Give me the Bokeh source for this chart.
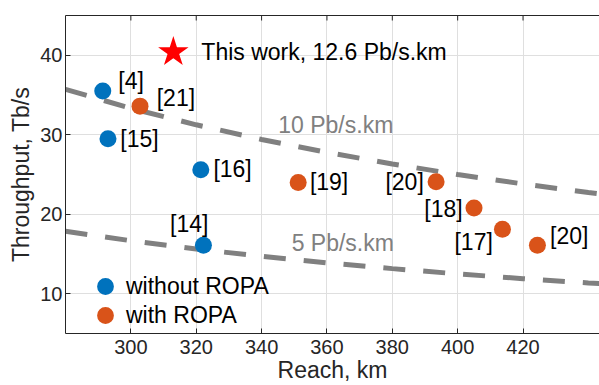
import math
from bokeh.plotting import figure
from bokeh.models import Range1d, LinearAxis, FixedTicker, ColumnDataSource, Legend, LegendItem
from bokeh.core.properties import value
from bokeh.embed import file_html
from bokeh.resources import INLINE

# ---- data ----
wo_reach = [291.4, 293.0, 321.4, 322.2]
wo_thr = [35.5, 29.5, 25.6, 16.1]
wo_labels = ["[4]", "[15]", "[16]", "[14]"]

w_reach = [302.8, 351.2, 393.4, 405.0, 413.7, 424.4]
w_thr = [33.6, 24.0, 24.1, 20.8, 18.1, 16.1]
w_labels = ["[21]", "[19]", "[20]", "[18]", "[17]", "[20]"]

this_reach = [313.0]
this_thr = [40.4]
this_label = ["This work, 12.6 Pb/s.km"]

iso_reach = [280, 300, 320, 340, 360, 380, 400, 420, 440, 460]
iso10_thr = [35.71, 33.33, 31.25, 29.41, 27.78, 26.32, 25.00, 23.81, 22.73, 21.74]
iso5_thr = [17.86, 16.67, 15.63, 14.71, 13.89, 13.16, 12.50, 11.90, 11.36, 10.87]
iso_text = ["10 Pb/s.km", "5 Pb/s.km"]
iso_text_reach = [345.1, 349.2]
iso_text_thr = [31.2, 16.4]

x_ticks = [300, 320, 340, 360, 380, 400, 420]
y_ticks = [10, 20, 30, 40]
x_lim = (280, 443.4)
y_lim = (5, 45)

# ---- label placement (screen offsets, px) ----
wo_dx = [15.6, 12.3, 12.6, 5.0]
wo_dy = [-10.0, 0.0, -0.7, -21.7]
wo_align = ["left", "left", "left", "right"]
w_dx = [16.7, 11.7, -12.3, -11.3, -9.6, 12.7]
w_dy = [-8.0, -0.6, 0.6, 0.7, 12.6, -9.4]
w_align = ["left", "left", "right", "right", "right", "left"]

FONT = "Liberation Sans"
BLUE = "#0072BD"
ORANGE = "#D95319"
AX = "#262626"

p = figure(width=599, height=385, output_backend="svg", toolbar_location=None,
           x_range=Range1d(*x_lim), y_range=Range1d(*y_lim),
           min_border_left=65, min_border_right=0, min_border_top=15, min_border_bottom=51,
           x_axis_label="Reach, km", y_axis_label="Throughput, Tb/s")
p.outline_line_color = None
p.background_fill_color = "white"
p.border_fill_color = "white"

for ax in (p.xaxis[0], p.yaxis[0]):
    ax.axis_line_color = AX
    ax.major_tick_line_color = AX
    ax.major_tick_in = 5
    ax.major_tick_out = 0
    ax.minor_tick_line_color = None
    ax.major_label_text_font = FONT
    ax.major_label_text_font_size = "20px"
    ax.major_label_text_color = AX
    ax.axis_label_text_font = FONT
    ax.axis_label_text_font_size = "23px"
    ax.axis_label_text_font_style = "normal"
    ax.axis_label_text_color = AX
p.xaxis[0].ticker = FixedTicker(ticks=x_ticks)
p.yaxis[0].ticker = FixedTicker(ticks=y_ticks)
p.xaxis[0].major_label_standoff = 6
p.xaxis[0].axis_label_standoff = 0
p.yaxis[0].major_label_standoff = 3
p.yaxis[0].axis_label_standoff = 3

# top box line (no labels) and inward top ticks
top = LinearAxis(ticker=FixedTicker(ticks=[]), axis_line_color=AX,
                 major_tick_line_color=None, minor_tick_line_color=None)
p.add_layout(top, "above")
p.scatter(x_ticks, [y_lim[1]] * len(x_ticks), marker="dash", angle=math.pi / 2,
          size=10, line_color=AX, line_width=1)

p.xgrid.ticker = FixedTicker(ticks=x_ticks)
p.ygrid.ticker = FixedTicker(ticks=y_ticks)
p.grid.grid_line_color = "#dfdfdf"
p.grid.grid_line_width = 1

# iso lines
p.line(iso_reach, iso10_thr, line_color="#808080", line_width=5, line_dash="22 18")
p.line(iso_reach, iso5_thr, line_color="#808080", line_width=5, line_dash="22 18")
p.text(iso_text_reach, iso_text_thr, text=iso_text, text_font=value(FONT), text_font_size="23px",
       text_color="#808080", text_baseline="middle", text_align="left")

# points
src_wo = ColumnDataSource(dict(x=wo_reach, y=wo_thr, t=wo_labels, dx=wo_dx, dy=wo_dy, al=wo_align))
src_w = ColumnDataSource(dict(x=w_reach, y=w_thr, t=w_labels, dx=w_dx, dy=w_dy, al=w_align))
r_wo = p.scatter("x", "y", source=src_wo, size=17, fill_color=BLUE, line_color=None)
r_w = p.scatter("x", "y", source=src_w, size=17, fill_color=ORANGE, line_color=None)
for s in (src_wo, src_w):
    p.text("x", "y", text="t", source=s, x_offset="dx", y_offset="dy", text_align="al",
           text_baseline="middle", text_font=value(FONT), text_font_size="23px", text_color="black")

p.scatter(this_reach, this_thr, marker="star", size=32, fill_color="#FF0000", line_color=None)
p.text(this_reach, this_thr, text=this_label, x_offset=28, y_offset=0, text_baseline="middle",
       text_align="left", text_font=value(FONT), text_font_size="23px", text_color="black")

legend_style = dict(padding=0, margin=0, spacing=0, glyph_width=42, glyph_height=42,
                    label_height=42, label_standoff=0, label_text_font=FONT,
                    label_text_font_size="23px", label_text_color="black",
                    background_fill_alpha=0, border_line_color=None)
leg1 = Legend(items=[LegendItem(label="without ROPA", renderers=[r_wo])],
              location=(19, 26), **legend_style)
leg2 = Legend(items=[LegendItem(label="with ROPA", renderers=[r_w])],
              location=(19, -3), **legend_style)
p.add_layout(leg1)
p.add_layout(leg2)

open("out.html", "w").write(file_html(p, INLINE))
